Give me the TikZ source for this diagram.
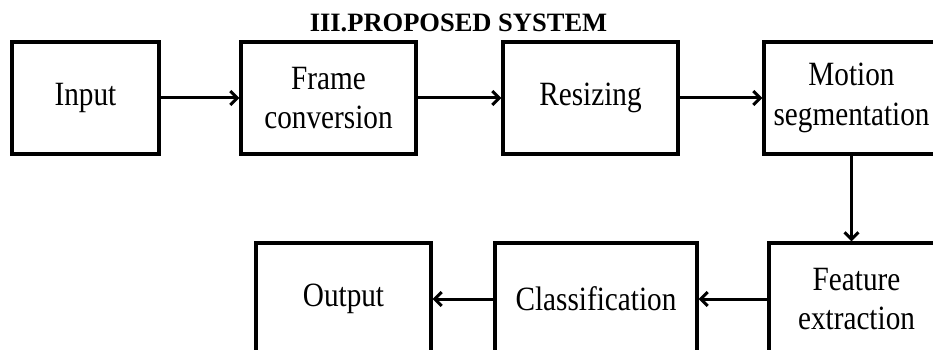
\documentclass[tikz,border=0pt]{standalone}
\usepackage{fontspec}
\setmainfont{Liberation Serif}
\newfontfamily\boxfont[FakeStretch=0.86]{Liberation Serif}
\usetikzlibrary{arrows.meta}
\begin{document}
\begin{tikzpicture}[x=1pt,y=-1pt,
  blk/.style={draw, line width=3.2pt, minimum height=112pt, inner sep=0pt,
    align=center, font=\boxfont\fontsize{34}{39.5}\selectfont},
  conn/.style={line width=3pt, -{Straight Barb[length=7pt,width=14pt,line width=3pt]}}]
\path[use as bounding box, clip] (0,0) rectangle (933,350);
\node[font=\bfseries\fontsize{26.5}{30}\selectfont, anchor=base] (title) at (458.5,32) {III.PROPOSED SYSTEM};
\node[blk, minimum width=147pt] (in) at (85.5,98) {Input};
\node[blk, minimum width=175pt] (fc) at (328.5,98) {Frame\\conversion};
\node[blk, minimum width=175pt] (rs) at (590.5,98) {Resizing};
\node[blk, minimum width=175pt] (ms) at (851.5,98) {Motion\\segmentation};
\node[blk, minimum width=175pt] (fe) at (856.5,299) {Feature\\extraction};
\node[blk, minimum width=202pt] (cl) at (596,299) {Classification};
\node[blk, minimum width=175pt] (out) at (343.5,299) {Output};
\draw[conn] (in) -- (fc);
\draw[conn] (fc) -- (rs);
\draw[conn] (rs) -- (ms);
\draw[conn] (ms.south) -- (ms.south |- fe.north);
\draw[conn] (fe.west |- cl) -- (cl);
\draw[conn] (cl) -- (out);
\end{tikzpicture}
\end{document}
